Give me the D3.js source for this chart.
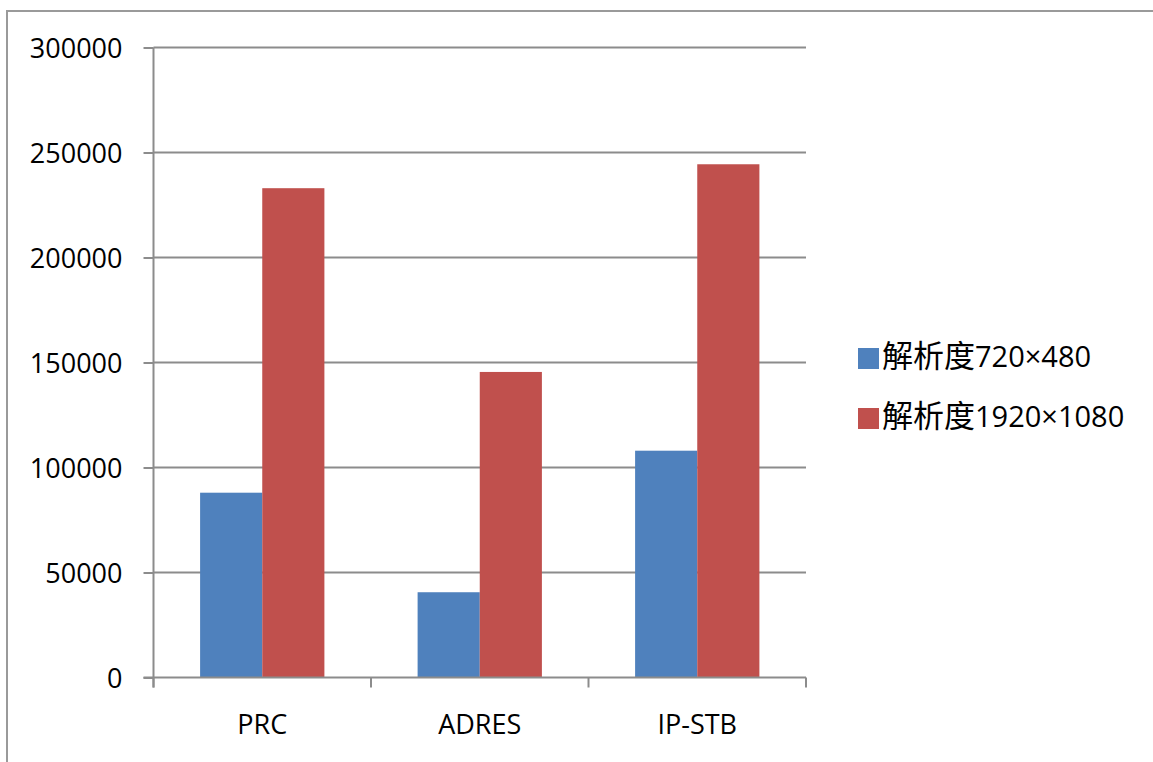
<!DOCTYPE html>
<html>
<head>
<meta charset="utf-8">
<script src="https://cdn.jsdelivr.net/npm/d3@7"></script>
<style>
  body { margin: 0; background: #fff; }
  svg { display: block; }
  text { font-family: "Open Sans", "Noto Sans", sans-serif; fill: #000; }
</style>
</head>
<body>
<div id="chart"></div>
<script>
var categories = ["PRC", "ADRES", "IP-STB"];
var seriesNames = ["解析度720×480", "解析度1920×1080"];
var seriesKeys = ["r480", "r1080"];
var values480 = [88000, 40600, 108000];
var values1080 = [233000, 145500, 244400];
var yTicks = [0, 50000, 100000, 150000, 200000, 250000, 300000];
var colors = ["#4f81bd", "#c0504d"];

var svgWidth = 1153;
var svgHeight = 762;

var margin = { top: 47.5, left: 153.5 };
var width = 806 - margin.left;
var height = 677.5 - margin.top;

var svg = d3.select("#chart")
    .append("svg")
    .attr("width", svgWidth)
    .attr("height", svgHeight);

// outer chart frame (cut off on the right and bottom)
svg.append("rect")
    .attr("x", 7)
    .attr("y", 11)
    .attr("width", 1200)
    .attr("height", 800)
    .attr("fill", "none")
    .attr("stroke", "#9a9a9a")
    .attr("stroke-width", 2);

var chartGroup = svg.append("g")
    .attr("transform", `translate(${margin.left}, ${margin.top})`);

var data = categories.map(function(c, i) {
    return { cat: c, r480: values480[i], r1080: values1080[i] };
});

var x0 = d3.scaleBand()
    .domain(categories)
    .range([0, width])
    .padding(0);

// gap width 150% of a bar, split on both sides
var barW = x0.bandwidth() / 3.5;
var x1 = d3.scaleBand()
    .domain(seriesKeys)
    .range([barW * 0.75, x0.bandwidth() - barW * 0.75])
    .padding(0);

var y = d3.scaleLinear()
    .domain([0, 300000])
    .range([height, 0]);

// gridlines
chartGroup.append("g")
    .selectAll("line")
    .data(yTicks.slice(1))
    .enter()
    .append("line")
    .attr("x1", 0)
    .attr("x2", width)
    .attr("y1", d => y(d))
    .attr("y2", d => y(d))
    .attr("stroke", "#8c8c8c")
    .attr("stroke-width", 2);

// bars
chartGroup.selectAll("g.cat")
    .data(data)
    .enter()
    .append("g")
    .attr("class", "cat")
    .attr("transform", d => `translate(${x0(d.cat)}, 0)`)
    .selectAll("rect")
    .data(d => seriesKeys.map((k, i) => ({ key: k, value: d[k], i: i })))
    .enter()
    .append("rect")
    .attr("x", d => x1(d.key))
    .attr("y", d => y(d.value))
    .attr("width", x1.bandwidth())
    .attr("height", d => height - y(d.value))
    .attr("fill", d => colors[d.i]);

// y axis
var leftAxis = d3.axisLeft(y)
    .tickValues(yTicks)
    .tickSize(10)
    .tickPadding(21)
    .tickFormat(d3.format("d"));

var yAxis = chartGroup.append("g").call(leftAxis);
yAxis.select(".domain").attr("stroke", "#8c8c8c").attr("stroke-width", 2)
    .attr("d", `M0,${height + 10}V0`);
yAxis.selectAll(".tick line").attr("stroke", "#8c8c8c").attr("stroke-width", 2);
yAxis.selectAll(".tick text")
    .attr("font-size", "27px")
    .attr("font-family", "'Open Sans', sans-serif")
    .attr("dy", "0.37em");

// x axis
var bottomAxis = d3.axisBottom(x0)
    .tickSize(0)
    .tickPadding(37);

var xAxis = chartGroup.append("g")
    .attr("transform", `translate(0, ${height})`)
    .call(bottomAxis);
xAxis.select(".domain").attr("stroke", "#8c8c8c").attr("stroke-width", 2)
    .attr("d", `M-10,0H${width}`);
xAxis.selectAll(".tick text")
    .attr("font-size", "27px")
    .attr("font-family", "'Open Sans', sans-serif");

// category boundary ticks
xAxis.append("g")
    .selectAll("line")
    .data(categories.map(c => x0(c)).concat([width]))
    .enter()
    .append("line")
    .attr("x1", d => d)
    .attr("x2", d => d)
    .attr("y1", 0)
    .attr("y2", 10)
    .attr("stroke", "#8c8c8c")
    .attr("stroke-width", 2);

// legend
var legend = svg.append("g")
    .attr("transform", "translate(858, 348)");

var items = legend.selectAll("g")
    .data(seriesNames)
    .enter()
    .append("g")
    .attr("transform", (d, i) => `translate(0, ${i * 60})`);

items.append("rect")
    .attr("width", 21)
    .attr("height", 21)
    .attr("fill", (d, i) => colors[i]);

var label = items.append("text")
    .attr("x", 24)
    .attr("y", 19);

label.append("tspan")
    .attr("font-family", "'Noto Sans CJK TC', 'Noto Sans CJK SC', sans-serif")
    .attr("font-size", "31px")
    .text(d => d.slice(0, 3));

label.append("tspan")
    .attr("font-family", "'Open Sans', sans-serif")
    .attr("font-size", "29px")
    .text(d => d.slice(3));
</script>
</body>
</html>
